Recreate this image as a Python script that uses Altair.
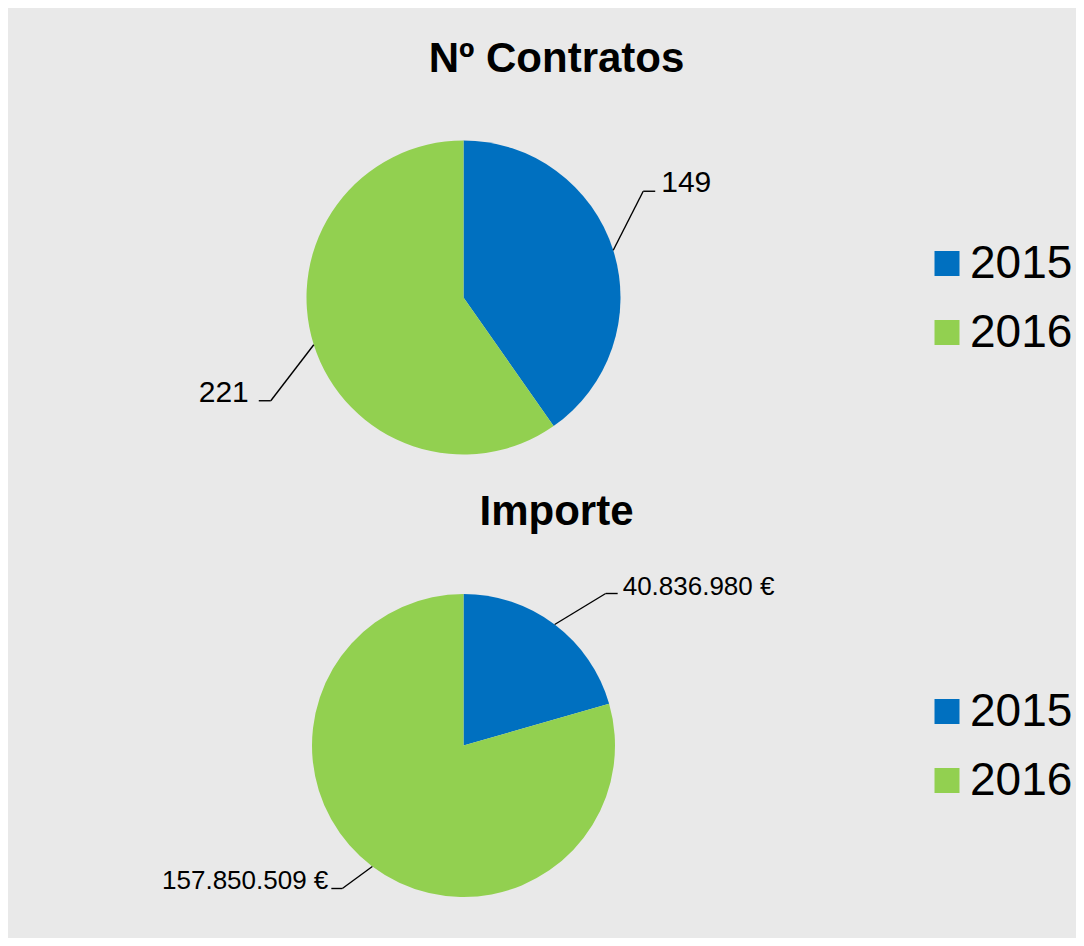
import altair as alt
import pandas as pd

# ---- data ----
YEARS = ["2015", "2016"]
CONTRATOS = [149, 221]
IMPORTE = [40836980, 157850509]
TITLES = ["Nº Contratos", "Importe"]

def eur(v):
    return f"{v:,}".replace(",", ".") + " €"

CONTRATOS_LABELS = [str(v) for v in CONTRATOS]
IMPORTE_LABELS = [eur(v) for v in IMPORTE]

# ---- layout / style ----
BLUE, GREEN = "#0070C0", "#92D050"
BG = "#E9E9E9"
FONT = "Liberation Sans"
W, H = 1068, 930

PIES = [
    dict(cx=455.5, cy=289.5, r=157, title_y=63.7, legend_y=232.5, font=30,
         dx=[30, -43], dy=[-59, 56], hlen=[12, -12], gap=[6, -10], tdy=[1, 1]),
    dict(cx=455.5, cy=737.5, r=151.5, title_y=517, legend_y=680.5, font=26,
         dx=[51, -30], dy=[-31, 22], hlen=[12, -11], gap=[5, -3], tdy=[1, 1]),
]
TITLE_X = 548.5
LEGEND_X = 916


def pie_layers(values, labels, p):
    df = pd.DataFrame({
        "year": YEARS, "value": values, "label": labels,
        "dx": p["dx"], "dy": p["dy"], "hlen": p["hlen"], "gap": p["gap"], "tdy": p["tdy"],
    })
    base = alt.Chart(df)
    arc = base.mark_arc(outerRadius=p["r"], strokeWidth=0).encode(
        theta=alt.Theta("value:Q", stack=True),
        order=alt.Order("year:N"),
        color=alt.Color(
            "year:N",
            scale=alt.Scale(domain=YEARS, range=[BLUE, GREEN]),
            legend=alt.Legend(
                title=None, orient="none", legendX=LEGEND_X, legendY=p["legend_y"],
                symbolType="square", symbolSize=625, symbolStrokeWidth=0,
                labelFontSize=46, labelFont=FONT, labelColor="black",
                rowPadding=23, labelOffset=0, padding=0,
            ),
        ),
        x=alt.value(p["cx"]),
        y=alt.value(p["cy"]),
    )
    geo = base.transform_joinaggregate(total="sum(value)").transform_window(
        cum="sum(value)", sort=[alt.SortField("year")]
    ).transform_calculate(
        mid=f"2*PI*(datum.cum - datum.value/2)/datum.total",
    ).transform_calculate(
        ex=f"{p['cx']} + {p['r']}*sin(datum.mid)",
        ey=f"{p['cy']} - {p['r']}*cos(datum.mid)",
    ).transform_calculate(
        bx="datum.ex + datum.dx",
        by="datum.ey + datum.dy",
    ).transform_calculate(
        hx="datum.bx + datum.hlen",
    ).transform_calculate(
        tx="datum.hx + datum.gap",
        ty="datum.by + datum.tdy",
        side="datum.gap > 0 ? 'R' : 'L'",
    )
    X = lambda f: alt.X(f, scale=None, axis=None)
    Y = lambda f: alt.Y(f, scale=None, axis=None)
    diag = geo.mark_rule(color="black", strokeWidth=1.4).encode(
        x=X("ex:Q"), y=Y("ey:Q"), x2="bx:Q", y2="by:Q")
    horiz = geo.mark_rule(color="black", strokeWidth=1.4).encode(
        x=X("bx:Q"), y=Y("by:Q"), x2="hx:Q", y2="by:Q")
    txt_r = geo.transform_filter("datum.side == 'R'").mark_text(
        align="left", baseline="alphabetic", fontSize=p["font"], font=FONT, color="black"
    ).encode(x=X("tx:Q"), y=Y("ty:Q"), text="label:N")
    txt_l = geo.transform_filter("datum.side == 'L'").mark_text(
        align="right", baseline="alphabetic", fontSize=p["font"], font=FONT, color="black"
    ).encode(x=X("tx:Q"), y=Y("ty:Q"), text="label:N")
    return arc, [diag, horiz, txt_r, txt_l]


arc1, extra1 = pie_layers(CONTRATOS, CONTRATOS_LABELS, PIES[0])
arc2, extra2 = pie_layers(IMPORTE, IMPORTE_LABELS, PIES[1])

titles_df = pd.DataFrame({"title": TITLES, "ty": [PIES[0]["title_y"], PIES[1]["title_y"]]})
titles = alt.Chart(titles_df).mark_text(
    align="center", baseline="alphabetic", fontSize=42, fontWeight="bold", font=FONT, color="black"
).encode(
    x=alt.value(TITLE_X),
    y=alt.Y("ty:Q", scale=None, axis=None),
    text="title:N",
)

chart = alt.layer(arc1, arc2, *extra1, *extra2, titles).resolve_scale(
    color="independent", theta="independent"
).properties(
    width=W, height=H, background=BG, padding=0,
    autosize=alt.AutoSizeParams(type="none"),
).configure_view(strokeWidth=0)

chart.save("out.html", embed_options={"renderer": "svg", "actions": False})
